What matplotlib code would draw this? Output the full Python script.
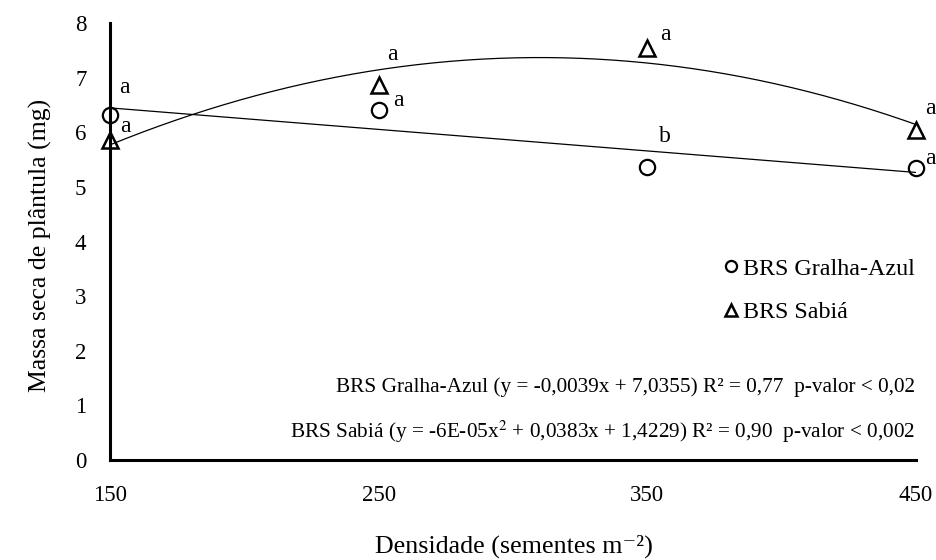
import numpy as np
import matplotlib
matplotlib.use("Agg")
import matplotlib.pyplot as plt
from matplotlib.lines import Line2D

plt.rcParams['font.family'] = ['Liberation Serif', 'DejaVu Serif']
plt.rcParams['mathtext.fontset'] = 'stix'

# data
densidade = [150, 250, 350, 450]
gralha = [6.31, 6.40, 5.37, 5.34]
sabia = [5.86, 6.87, 7.54, 6.05]
gralha_letras = ['a', 'a', 'b', 'a']
sabia_letras = ['a', 'a', 'a', 'a']

# label offsets (points) relative to each marker
gralha_off = [(10, 20), (14, 7), (13, 22), (10, 7)]
sabia_off = [(11, 10), (10, 22), (13, 10), (10, 15)]

eq_gralha = 'BRS Gralha-Azul (y = -0,0039x + 7,0355) R² = 0,77  p-valor < 0,02'
eq_sabia = 'BRS Sabiá (y = -6E-05x$^2$ + 0,0383x + 1,4229) R² = 0,90  p-valor < 0,002'

fig = plt.figure(figsize=(9.36, 5.6), dpi=100)
ax = fig.add_axes([110/936, 1-460/560, 806/936, 437/560])

# trend lines (fitted to the points, like the spreadsheet trendline)
xs = np.linspace(150, 450, 200)
ax.plot(xs, np.polyval(np.polyfit(densidade, gralha, 1), xs), color='black', lw=0.9)
ax.plot(xs, np.polyval(np.polyfit(densidade, sabia, 2), xs), color='black', lw=0.9)

ax.plot(densidade, gralha, 'o', ms=11, mfc='none', mec='black', mew=1.6, clip_on=False)
ax.plot(densidade, sabia, '^', ms=11, mfc='none', mec='black', mew=1.8, clip_on=False)

for x, y, t, o in zip(densidade, gralha, gralha_letras, gralha_off):
    ax.annotate(t, (x, y), xytext=o, textcoords='offset points', fontsize=17,
                ha='center', va='center')
for x, y, t, o in zip(densidade, sabia, sabia_letras, sabia_off):
    ax.annotate(t, (x, y), xytext=o, textcoords='offset points', fontsize=17,
                ha='center', va='center')

ax.text(915/936, (560-387)/560, eq_gralha, transform=fig.transFigure, ha='right', va='center', fontsize=15.3)
ax.text(915/936, (560-432)/560, eq_sabia, transform=fig.transFigure, ha='right', va='center', fontsize=15.3)

handles = [Line2D([], [], ls='none', marker='o', ms=8, mfc='none', mec='black', mew=1.6),
           Line2D([], [], ls='none', marker='^', ms=8, mfc='none', mec='black', mew=1.8)]
ax.legend(handles, ['BRS Gralha-Azul', 'BRS Sabiá'], loc='upper left',
          bbox_to_anchor=(712/936, 1-246/560), bbox_transform=fig.transFigure,
          frameon=False, fontsize=17.3, handlelength=0.6, handletextpad=0.2,
          labelspacing=0.9, borderpad=0)

ax.set_xlim(150, 450)
ax.set_ylim(0, 8)
ax.set_xticks([150, 250, 350, 450])
ax.set_yticks(range(0, 9))
ax.tick_params(length=0, labelsize=16.5)
ax.tick_params(axis='y', pad=17)
ax.tick_params(axis='x', pad=18)
for s in ['top', 'right']:
    ax.spines[s].set_visible(False)
for s in ['left', 'bottom']:
    ax.spines[s].set_linewidth(2.2)

fig.text(514/936, 1-546/560, 'Densidade (sementes m⁻²)', ha='center', va='center', fontsize=18.7)
fig.text(40/936, 1-245/560, 'Massa seca de plântula (mg)', ha='center', va='center',
         rotation=90, fontsize=18.5)

fig.savefig('out.png', dpi=100)
